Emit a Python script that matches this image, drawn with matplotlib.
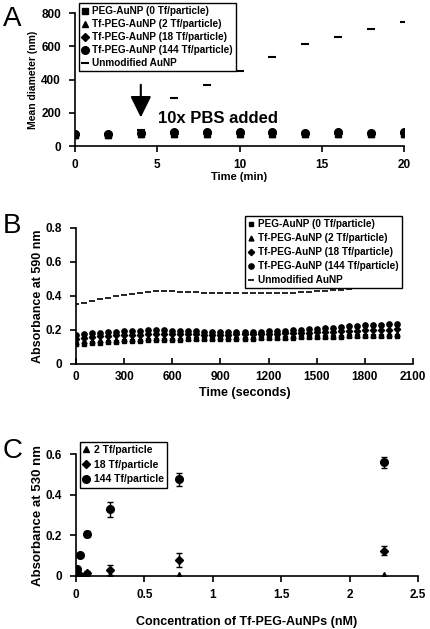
import matplotlib
matplotlib.use("Agg")
import matplotlib.pyplot as plt

plt.rcParams["font.family"] = ["Liberation Sans", "DejaVu Sans"]
plt.rcParams["font.weight"] = "bold"

# ---- Panel A: mean diameter vs time ----
time_a = [0, 2, 4, 6, 8, 10, 12, 14, 16, 18, 20]
diam_peg = [68, 67, 74, 70, 72, 72, 70, 72, 72, 71, 72]
diam_tf2 = [66, 65, 72, 71, 73, 72, 71, 71, 73, 72, 72]
diam_tf18 = [72, 70, 78, 76, 80, 79, 77, 76, 80, 77, 78]
diam_tf144 = [72, 70, 80, 82, 85, 83, 82, 80, 86, 81, 82]
diam_tf144_err = [6, 5, 6, 6, 7, 6, 6, 5, 7, 6, 6]
diam_bare = [70, 70, 95, 291, 368, 452, 533, 613, 653, 703, 744]

# ---- Panel B: absorbance at 590 nm vs time ----
time_b = list(range(0, 2001, 50))
abs_peg = [0.115, 0.118, 0.122, 0.126, 0.129, 0.132, 0.134, 0.136, 0.138, 0.140,
           0.141, 0.142, 0.143, 0.144, 0.145, 0.146, 0.146, 0.147, 0.148, 0.148,
           0.149, 0.150, 0.150, 0.151, 0.152, 0.153, 0.154, 0.155, 0.156, 0.157,
           0.158, 0.159, 0.160, 0.161, 0.162, 0.163, 0.163, 0.164, 0.165, 0.165,
           0.166]
abs_tf2 = [0.130, 0.133, 0.137, 0.140, 0.142, 0.144, 0.146, 0.148, 0.150, 0.151,
           0.152, 0.153, 0.153, 0.154, 0.154, 0.155, 0.155, 0.155, 0.156, 0.156,
           0.157, 0.157, 0.158, 0.158, 0.159, 0.160, 0.161, 0.162, 0.163, 0.164,
           0.165, 0.166, 0.167, 0.168, 0.169, 0.170, 0.171, 0.172, 0.173, 0.174,
           0.175]
abs_tf18 = [0.150, 0.155, 0.160, 0.163, 0.166, 0.168, 0.170, 0.172, 0.173, 0.174,
            0.175, 0.175, 0.175, 0.175, 0.174, 0.174, 0.173, 0.173, 0.173, 0.173,
            0.174, 0.174, 0.175, 0.176, 0.177, 0.178, 0.180, 0.181, 0.183, 0.185,
            0.187, 0.189, 0.191, 0.193, 0.195, 0.197, 0.199, 0.200, 0.201, 0.202,
            0.203]
abs_tf144 = [0.170, 0.175, 0.180, 0.183, 0.186, 0.190, 0.192, 0.195, 0.197, 0.198,
             0.199, 0.198, 0.196, 0.195, 0.193, 0.192, 0.190, 0.189, 0.188, 0.188,
             0.188, 0.189, 0.190, 0.191, 0.193, 0.195, 0.197, 0.199, 0.200, 0.203,
             0.206, 0.209, 0.213, 0.217, 0.221, 0.225, 0.228, 0.230, 0.232, 0.234,
             0.236]
abs_bare = [0.352, 0.360, 0.370, 0.380, 0.390, 0.398, 0.405, 0.412, 0.418, 0.423,
            0.427, 0.428, 0.427, 0.425, 0.423, 0.421, 0.419, 0.418, 0.417, 0.416,
            0.415, 0.415, 0.415, 0.415, 0.416, 0.417, 0.418, 0.420, 0.422, 0.424,
            0.427, 0.430, 0.433, 0.436, 0.440, 0.470, 0.480, 0.490, 0.500, 0.505,
            0.510]

# ---- Panel C: absorbance at 530 nm vs concentration ----
conc = [0, 0.0031, 0.0093, 0.028, 0.083, 0.25, 0.75, 2.25]
c_tf2 = [0.0, 0.002, 0.003, 0.003, 0.004, 0.005, 0.004, 0.003]
c_tf18 = [0.0, 0.003, 0.005, 0.006, 0.015, 0.031, 0.077, 0.124]
c_tf18_err = [0.003, 0.003, 0.004, 0.005, 0.012, 0.025, 0.035, 0.022]
c_tf144 = [0.0, 0.012, 0.035, 0.105, 0.206, 0.328, 0.476, 0.560]
c_tf144_err = [0.003, 0.005, 0.008, 0.010, 0.015, 0.037, 0.033, 0.027]

labels_ab = ["PEG-AuNP (0 Tf/particle)", "Tf-PEG-AuNP (2 Tf/particle)",
             "Tf-PEG-AuNP (18 Tf/particle)", "Tf-PEG-AuNP (144 Tf/particle)",
             "Unmodified AuNP"]
labels_c = ["2 Tf/particle", "18 Tf/particle", "144 Tf/particle"]

W, H = 431, 629
fig = plt.figure(figsize=(W / 100, H / 100), dpi=100)


def style(ax, tickdir):
    for s in ["top", "right"]:
        ax.spines[s].set_visible(False)
    for s in ["left", "bottom"]:
        ax.spines[s].set_linewidth(1.2)
    ax.tick_params(axis="y", direction="out", length=4, width=1.2, labelsize=8.5, pad=6)
    ax.tick_params(axis="x", direction=tickdir, length=4, width=1.2, labelsize=8.5, pad=5)
    for lab in ax.get_xticklabels() + ax.get_yticklabels():
        lab.set_fontweight("bold")


def legend(ax, handles, labels, anchor, loc, fs, spacing):
    lg = ax.legend(handles, labels, loc=loc, bbox_to_anchor=anchor,
                   bbox_transform=fig.transFigure, fontsize=fs, frameon=True,
                   fancybox=False, framealpha=1.0, handlelength=0.6,
                   handletextpad=0.4, labelspacing=spacing, borderpad=0.3,
                   borderaxespad=0)
    lg.get_frame().set_edgecolor("black")
    lg.get_frame().set_linewidth(1.0)
    lg.set_zorder(10)
    for t in lg.get_texts():
        t.set_fontweight("bold")
    return lg


# Panel A
axA = fig.add_axes([75 / W, 1 - 146 / H, 329 / W, 133 / H])
kw = dict(color="black", linestyle="none")
hA = []
hA.append(axA.plot(time_a, diam_peg, marker="s", markersize=5, **kw)[0])
hA.append(axA.plot(time_a, diam_tf2, marker="^", markersize=5, **kw)[0])
hA.append(axA.plot(time_a, diam_tf18, marker="D", markersize=4.5, **kw)[0])
axA.errorbar(time_a, diam_tf144, yerr=diam_tf144_err, fmt="none", ecolor="black",
             elinewidth=1, capsize=2)
hA.append(axA.plot(time_a, diam_tf144, marker="o", markersize=5.5, **kw)[0])
hA.append(axA.plot(time_a, diam_bare, marker="_", markersize=6, markeredgewidth=1.5, **kw)[0])
axA.set_xlim(0, 20)
axA.set_ylim(0, 800)
axA.set_xticks([0, 5, 10, 15, 20])
axA.set_yticks([0, 200, 400, 600, 800])
axA.set_xlabel("Time (min)", fontsize=8, fontweight="bold", labelpad=1)
axA.set_ylabel("Mean diameter (nm)", fontsize=7.5, fontweight="bold", labelpad=2.5)
style(axA, "out")
axA.annotate("", xy=(4, 155), xytext=(4, 385),
             arrowprops=dict(arrowstyle="-|>,head_length=0.65,head_width=0.32",
                             color="black", lw=1.5, mutation_scale=20))
axA.text(5.05, 168, "10x PBS added", fontsize=12, fontweight="bold", va="center")
legend(axA, hA, labels_ab, (79 / W, 1 - 3 / H), "upper left", 7.2, 0.3)
fig.text(3 / W, 1 - 26 / H, "A", fontsize=20, fontweight="normal")

# Panel B
axB = fig.add_axes([76 / W, 1 - 364 / H, 337 / W, 136 / H])
hB = []
hB.append(axB.plot(time_b, abs_peg, marker="s", markersize=3.5, **kw)[0])
hB.append(axB.plot(time_b, abs_tf2, marker="^", markersize=3.5, **kw)[0])
hB.append(axB.plot(time_b, abs_tf18, marker="D", markersize=3.2, **kw)[0])
hB.append(axB.plot(time_b, abs_tf144, marker="o", markersize=3.8, **kw)[0])
hB.append(axB.plot(time_b, abs_bare, marker="_", markersize=4, markeredgewidth=1.2, **kw)[0])
axB.set_xlim(0, 2100)
axB.set_ylim(0, 0.8)
axB.set_xticks(range(0, 2101, 300))
axB.set_yticks([0, 0.2, 0.4, 0.6, 0.8])
axB.set_yticklabels(["0", "0.2", "0.4", "0.6", "0.8"])
axB.set_xlabel("Time (seconds)", fontsize=9, fontweight="bold", labelpad=3)
axB.set_ylabel("Absorbance at 590 nm", fontsize=9, fontweight="bold", labelpad=1.5)
style(axB, "in")
legend(axB, hB, labels_ab, (402 / W, 1 - 216 / H), "upper right", 7.2, 0.4)
fig.text(3 / W, 1 - 233 / H, "B", fontsize=20, fontweight="normal")

# Panel C
axC = fig.add_axes([76 / W, 1 - 576 / H, 342 / W, 122 / H])
hC = []
hC.append(axC.plot(conc, c_tf2, marker="^", markersize=4.5, **kw)[0])
axC.errorbar(conc, c_tf18, yerr=c_tf18_err, fmt="none", ecolor="black",
             elinewidth=1, capsize=2.5)
hC.append(axC.plot(conc, c_tf18, marker="D", markersize=4, **kw)[0])
axC.errorbar(conc, c_tf144, yerr=c_tf144_err, fmt="none", ecolor="black",
             elinewidth=1, capsize=2.5)
hC.append(axC.plot(conc, c_tf144, marker="o", markersize=5.5, **kw)[0])
axC.set_xlim(0, 2.5)
axC.set_ylim(0, 0.6)
axC.set_xticks([0, 0.5, 1, 1.5, 2, 2.5])
axC.set_xticklabels(["0", "0.5", "1", "1.5", "2", "2.5"])
axC.set_yticks([0, 0.2, 0.4, 0.6])
axC.set_yticklabels(["0", "0.2", "0.4", "0.6"])
axC.set_xlabel("Concentration of Tf-PEG-AuNPs (nM)", fontsize=9, fontweight="bold", labelpad=11)
axC.set_ylabel("Absorbance at 530 nm", fontsize=9.5, fontweight="bold", labelpad=1.5)
style(axC, "out")
legend(axC, hC, labels_c, (80 / W, 1 - 442 / H), "upper left", 7.5, 0.45)
fig.text(3 / W, 1 - 458 / H, "C", fontsize=20, fontweight="normal")

fig.savefig("out.png", dpi=100)
